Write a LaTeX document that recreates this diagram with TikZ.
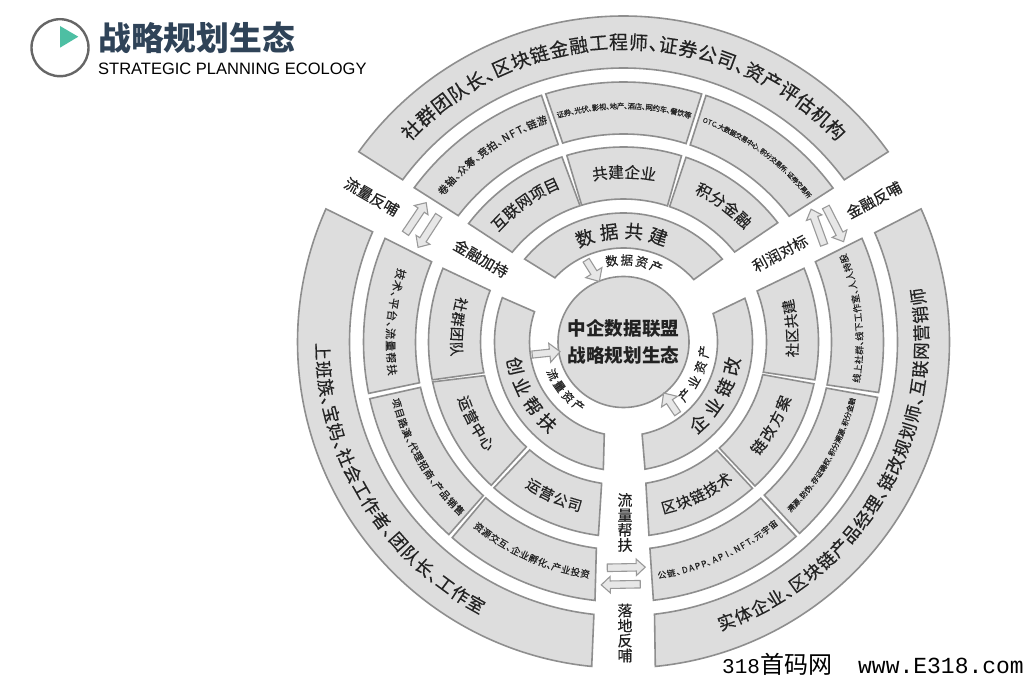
\documentclass[tikz,border=0pt]{standalone}
\usepackage{fontspec}
\usetikzlibrary{shapes.arrows}
\setmainfont{Noto Sans CJK SC}
\newfontfamily\heavycjk[FakeBold=0.35]{Noto Sans CJK SC}
\newfontfamily\latinsans{Liberation Sans}
\newfontfamily\latinmono{Liberation Mono}
\definecolor{ringfill}{HTML}{DDDDDD}
\definecolor{ringline}{HTML}{8E8E8E}
\definecolor{inkdark}{HTML}{222222}
\definecolor{titleblue}{HTML}{2F4358}
\definecolor{logoteal}{HTML}{4DBFA3}
\definecolor{logogray}{HTML}{666666}
\tikzset{
  ringseg/.style={draw=ringline,fill=ringfill,line width=1.6pt,line join=miter},
  flatlabel/.style={inner sep=0pt,text=inkdark,font=\fontsize{15}{15}\selectfont\heavycjk},
  blockarrow/.style={single arrow,draw=ringline!90,fill=ringfill!70,line width=1.1pt,inner sep=3.2pt,
     single arrow head extend=4.5pt,single arrow tip angle=85,anchor=center},
  innerarrow/.style={blockarrow,inner sep=3pt,single arrow head extend=6pt},
}
\newcounter{chr}
\def\dunmark{、}
% radius, start angle, step, font size, characters
\newcommand\arctext[5]{%
  \xdef\curang{#2}%
  \foreach \chh in {#5}{%
    \stepcounter{chr}%
    \pgfmathsetmacro\drawang{\curang}%
    \ifx\chh\dunmark
      \pgfmathsetmacro\nextang{\drawang+0.5*(#3)}%
    \else
      \ifnum\expandafter`\chh<128
        \pgfmathsetmacro\nextang{\drawang+0.72*(#3)}%
      \else
        \pgfmathsetmacro\nextang{\drawang+(#3)}%
      \fi
    \fi
    \pgfmathsetmacro\rotang{\drawang+(#3<0?-90:90)}%
    \node[inner sep=0pt,text=inkdark,rotate=\rotang,font=\fontsize{#4}{#4}\selectfont\heavycjk]
      (ch\arabic{chr}) at (\drawang:#1) {\vphantom{国}\chh};%
    \xdef\curang{\nextang}%
  }%
}
% inner r, outer r, outer a1, outer a2, inner a1, inner a2
\newcommand\sector[6]{%
  \draw[ringseg] (#3:#2) arc[start angle=#3,end angle=#4,radius=#2]
    -- (#6:#1) arc[start angle=#6,end angle=#5,radius=#1] -- cycle;%
}
\begin{document}
\begin{tikzpicture}[x=1pt,y=1pt]
\useasboundingbox (0,0) rectangle (1024,677);
\fill[white] (0,0) rectangle (1024,677);

% header
\draw[logogray,line width=2.4pt] (60,629.3) circle[radius=28.5];
\fill[logoteal] (60,651) -- (78.3,640.3) -- (60,629.3) -- cycle;
\node[anchor=west,inner sep=0pt,text=titleblue,font=\fontsize{32.8}{33}\selectfont\bfseries] (title) at (98,639) {战略规划生态};
\node[anchor=west,inner sep=0pt,text=black,font=\fontsize{16.5}{17}\selectfont\latinsans] (subtitle) at (98,608) {STRATEGIC PLANNING ECOLOGY};

\begin{scope}[shift={(623.5,335)}]
% ring 4
\sector{274}{326}{144.3}{35.7}{143.7}{36.3}
\sector{274}{326}{24.1}{-84.4}{23.5}{-83.5}
\sector{274}{326}{155.9}{264.4}{156.3}{263.8}
% ring 3
\sector{208}{260}{143.6}{108.4}{142.6}{108.3}
\sector{208}{260}{107.4}{72.5}{107}{72.5}
\sector{208}{260}{71.5}{36.3}{71.3}{37.2}
\sector{208}{260}{23.5}{-11.2}{22.7}{-11.9}
\sector{208}{260}{-12.3}{-47.4}{-12.8}{-47.4}
\sector{208}{260}{-48.4}{-83.4}{-48.7}{-82.7}
\sector{208}{260}{156.5}{191.4}{157.3}{191.3}
\sector{208}{260}{192.6}{227.8}{192.6}{227.6}
\sector{208}{260}{228.8}{263.7}{228.5}{262.5}
% ring 2
\sector{143}{195}{142.6}{108.4}{141.1}{107.7}
\sector{143}{195}{106.9}{72.7}{107}{72.1}
\sector{143}{195}{71.3}{37.7}{71.2}{39}
\sector{143}{195}{22.2}{-11.2}{20.9}{-12.2}
\sector{143}{195}{-12.4}{-47.6}{-13.2}{-47.9}
\sector{143}{195}{-48.6}{-82.5}{-49.2}{-81}
\sector{143}{195}{157.8}{191.2}{158.9}{192.4}
\sector{143}{195}{191.8}{227.3}{193.6}{227.2}
\sector{143}{195}{228.4}{262.6}{229}{261.2}
% ring 1
\sector{94}{129}{140}{40}{136.9}{41.6}
\sector{94}{129}{19.8}{-80.4}{17.6}{-78.6}
\sector{94}{129}{159.9}{261}{161.2}{258.2}
% centre
\node[circle,draw=ringline,fill=ringfill,line width=1.6pt,minimum size=131pt,inner sep=0pt,
      align=center,text=inkdark,font=\fontsize{18.6}{27.5}\selectfont\bfseries] (hub) at (0,0) {中企数据联盟\\战略规划生态};

% ring 4 text
\arctext{300}{135}{-3.83}{19}{社,群,团,队,长,、,区,块,链,金,融,工,程,师,、,证,券,公,司,、,资,产,评,估,机,构}
\arctext{298}{-69.8}{3.49}{17.5}{实,体,企,业,、,区,块,链,产,品,经,理,、,链,改,规,划,师,、,互,联,网,营,销,师}
\arctext{301}{181.8}{3.46}{17.5}{上,班,族,、,宝,妈,、,社,会,工,作,者,、,团,队,长,、,工,作,室}
% ring 3 text
\arctext{236}{139.8}{-2.65}{10.3}{卷,轴,、,众,筹,、,竞,拍,、,N,F,T,、,链,游}
\arctext{236}{105.5}{-1.74}{7.4}{证,券,、,光,伏,、,影,视,、,地,产,、,酒,店,、,网,约,车,、,餐,饮,等}
\arctext{236}{69.7}{-1.58}{6.7}{O,T,C,、,大,数,据,交,易,中,心,、,积,分,交,易,所,、,证,券,交,易,所}
\arctext{233}{163.1}{2.97}{11}{技,术,、,平,台,、,流,量,帮,扶}
\arctext{235}{195.1}{2.55}{9.8}{项,目,路,演,、,代,理,招,商,、,产,品,销,售}
\arctext{235}{232}{2.38}{9.5}{资,源,交,互,、,企,业,孵,化,、,产,业,投,资}
\arctext{236}{-8.8}{2.27}{9}{线,上,社,群,、,线,下,工,作,室,、,人,人,持,股}
\arctext{236}{-44.7}{1.77}{7.4}{溯,源,、,防,伪,、,存,证,确,权,、,积,分,溯,源,、,积,分,金,融}
\arctext{236}{-80.6}{2.27}{8.6}{公,链,、,D,A,P,P,、,A,P,I,、,N,F,T,、,元,宇,宙}
% ring 2 text
\arctext{172}{136.1}{-5.35}{15.5}{互,联,网,项,目}
\arctext{170}{98}{-5.47}{15.5}{共,建,企,业}
\arctext{171}{62}{-5.5}{15.5}{积,分,金,融}
\arctext{167}{167.1}{5.1}{14.5}{社,群,团,队}
\arctext{170}{201.1}{5.13}{14.5}{运,营,中,心}
\arctext{170}{238}{5.1}{14.5}{运,营,公,司}
\arctext{169}{-2.7}{4.9}{14.5}{社,区,共,建}
\arctext{171}{-37.8}{5.6}{15}{链,改,方,案}
\arctext{171}{-74.6}{5.15}{15}{区,块,链,技,术}
% ring 1 text
\arctext{111}{110.4}{-12.9}{18.5}{数,据,共,建}
\arctext{111}{192.5}{11.4}{18}{创,业,帮,扶}
\arctext{111}{-47.4}{11.6}{18}{企,业,链,改}
% asset labels
\arctext{82}{98.3}{-10.6}{12.5}{数,据,资,产}
\arctext{78}{204.7}{10}{11.5}{流,量,资,产}
\arctext{81}{-40.8}{11.3}{12.5}{产,业,资,产}
\end{scope}

% straight labels in the gaps
\node[flatlabel,rotate=-30] (lblA) at (481,418.5) {金融加持};
\node[flatlabel,rotate=-30] (lblB) at (371.7,480.3) {流量反哺};
\node[flatlabel,rotate=28] (lblC) at (780,423.7) {利润对标};
\node[flatlabel,rotate=28] (lblD) at (874,477) {金融反哺};
\node[flatlabel,align=center] (lblE) at (625,154.5) {流\\量\\帮\\扶};
\node[flatlabel,align=center] (lblF) at (625,44) {落\\地\\反\\哺};

% arrows
\node[blockarrow,minimum height=38pt,rotate=1] (arrE) at (624.2,109.5) {};
\node[blockarrow,minimum height=39pt,rotate=181] (arrF) at (622.8,92.5) {};
\node[blockarrow,minimum height=37pt,rotate=56] (arrA) at (414.7,457.3) {};
\node[blockarrow,minimum height=38pt,rotate=-123] (arrB) at (429.5,447.3) {};
\node[blockarrow,minimum height=38pt,rotate=110] (arrC) at (818.3,448) {};
\node[blockarrow,minimum height=39pt,rotate=-63] (arrD) at (833.8,454.5) {};
\node[innerarrow,minimum height=25pt,rotate=-58] (arrG) at (591.7,407.8) {};
\node[innerarrow,minimum height=28pt,rotate=6] (arrH) at (544.2,323.7) {};
\node[innerarrow,minimum height=25pt,rotate=124] (arrI) at (671.7,272) {};

% watermark
\node[anchor=base west,inner sep=0pt,text=black,font=\fontsize{21}{21}\selectfont\latinmono] (markA) at (722,4) {318{\fontsize{24}{24}\selectfont\rmfamily 首码网}};
\node[anchor=base east,inner sep=0pt,text=black,font=\fontsize{23}{23}\selectfont\latinmono] (markB) at (1024,4) {www.E318.com};
\end{tikzpicture}
\end{document}
